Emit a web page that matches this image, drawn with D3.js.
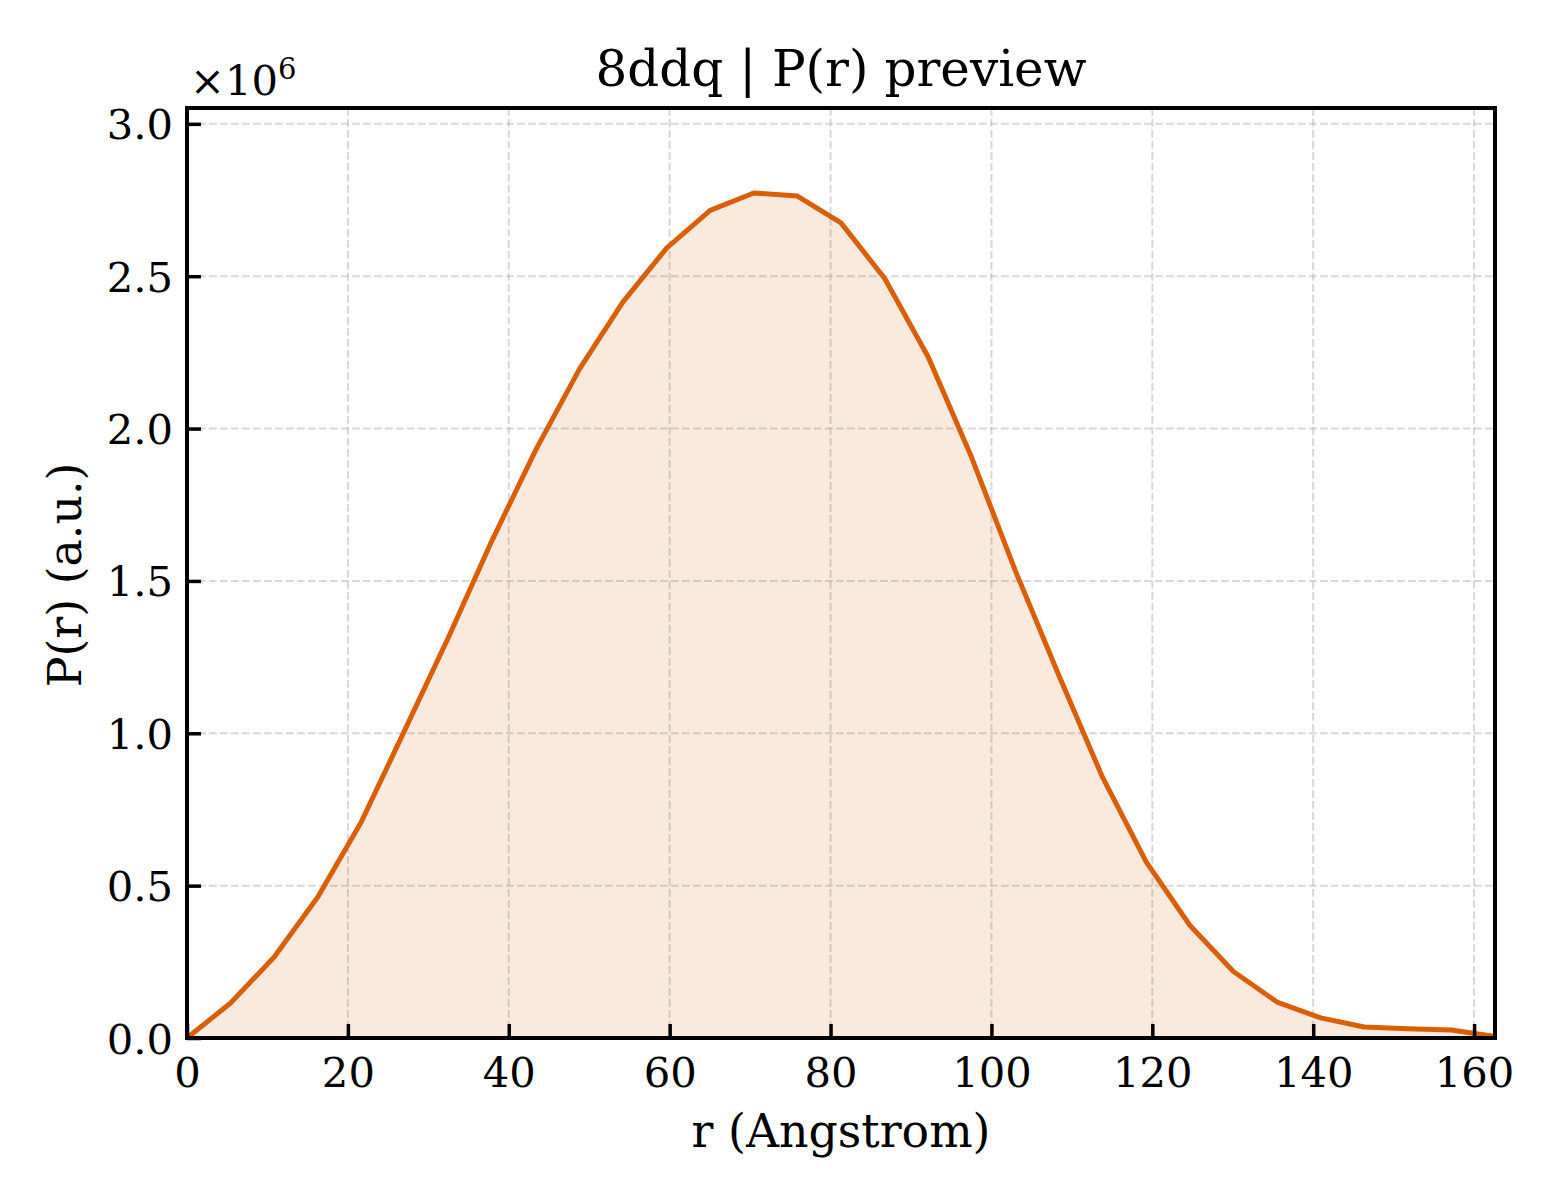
<!DOCTYPE html>
<html><head><meta charset="utf-8">
<script src="https://cdn.jsdelivr.net/npm/d3@7"></script>
<style>body{margin:0;background:#fff}svg{display:block}text{font-family:"DejaVu Serif",serif;fill:#000}</style>
</head><body><svg id="c" width="1560" height="1200"></svg>
<script>
const rStep = 5.42;
const pValues = [0, 0.115, 0.266, 0.463, 0.710, 1.012, 1.316, 1.634, 1.930, 2.195, 2.416, 2.592, 2.716, 2.773, 2.763, 2.675, 2.493, 2.235, 1.904, 1.533, 1.189, 0.855, 0.578, 0.370, 0.218, 0.118, 0.066, 0.036, 0.030, 0.026, 0.005];
const rValues = pValues.map((_, i) => i * rStep);
const xTicks = [0, 20, 40, 60, 80, 100, 120, 140, 160];
const yTicks = [0, 0.5, 1.0, 1.5, 2.0, 2.5, 3.0];
const data = rValues.map((r, i) => ({r, p: pValues[i]}));

const L = 187, R = 1495, T = 108, B = 1038;
const svg = d3.select("#c");
const x = d3.scaleLinear().domain([0, 162.6]).range([L, R]);
const y = d3.scaleLinear().domain([0, 3.052]).range([B, T]);

// grid
const g = svg.append("g");
g.selectAll(".gx").data(xTicks).join("line")
  .attr("x1", d => x(d)).attr("x2", d => x(d)).attr("y1", T).attr("y2", B)
  .attr("stroke", "#b0b0b0").attr("stroke-opacity", 0.5).attr("stroke-width", 2).attr("stroke-dasharray", "7.7,3.3");
g.selectAll(".gy").data(yTicks).join("line")
  .attr("y1", d => y(d)).attr("y2", d => y(d)).attr("x1", L).attr("x2", R)
  .attr("stroke", "#b0b0b0").attr("stroke-opacity", 0.5).attr("stroke-width", 2).attr("stroke-dasharray", "7.7,3.3");

// area + line
svg.append("path").datum(data)
  .attr("d", d3.area().x(d => x(d.r)).y0(y(0)).y1(d => y(d.p)))
  .attr("fill", "#d95f02").attr("fill-opacity", 0.13);
svg.append("path").datum(data)
  .attr("d", d3.line().x(d => x(d.r)).y(d => y(d.p)))
  .attr("fill", "none").attr("stroke", "#d95f02").attr("stroke-width", 5).attr("stroke-linejoin", "round");

// axes
const xAxis = d3.axisBottom(x).tickValues(xTicks).tickSizeInner(-14).tickSizeOuter(0).tickPadding(14).tickFormat(d3.format("d"));
const yAxis = d3.axisLeft(y).tickValues(yTicks).tickSizeInner(-14).tickSizeOuter(0).tickPadding(14).tickFormat(d3.format(".1f"));
const gx = svg.append("g").attr("transform", `translate(0,${B})`).call(xAxis);
const gy = svg.append("g").attr("transform", `translate(${L},0)`).call(yAxis);
[gx, gy].forEach(a => {
  a.select(".domain").remove();
  a.selectAll(".tick line").attr("stroke", "#000").attr("stroke-width", 3.5);
  a.selectAll(".tick text").attr("font-size", 41.7).attr("font-family", "DejaVu Serif").attr("fill", "#000");
});
gx.selectAll(".tick text").attr("y", 49).attr("dy", 0);
gy.selectAll(".tick text").attr("dy", "0.36em");

// frame
svg.append("rect").attr("x", L).attr("y", T).attr("width", R - L).attr("height", B - T)
  .attr("fill", "none").attr("stroke", "#000").attr("stroke-width", 4);

// offset label
const off = svg.append("text").attr("x", 190).attr("y", 95).attr("font-size", 41.7);
off.append("tspan").text("×10");
off.append("tspan").text("6").attr("font-size", 29).attr("dy", -16);

// titles
svg.append("text").attr("x", (L + R) / 2).attr("y", 86).attr("text-anchor", "middle").attr("font-size", 50).text("8ddq | P(r) preview");
svg.append("text").attr("x", (L + R) / 2).attr("y", 1147).attr("text-anchor", "middle").attr("font-size", 45.8).text("r (Angstrom)");
svg.append("text").attr("transform", `translate(81,${(T + B) / 2 + 2}) rotate(-90)`).attr("text-anchor", "middle").attr("font-size", 45.8).text("P(r) (a.u.)");
</script></body></html>
